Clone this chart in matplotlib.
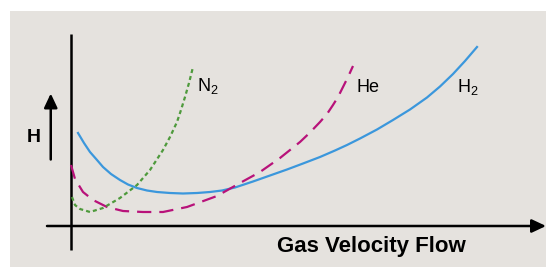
import matplotlib.pyplot as plt
from matplotlib.patches import Rectangle

plt.rcParams['font.family'] = ['Liberation Sans', 'DejaVu Sans']

# Van Deemter curves, plate height H vs gas velocity (arbitrary units)
h2_u = [0.14, 0.26, 0.38, 0.52, 0.64, 0.80, 0.98, 1.14, 1.32, 1.52, 1.72, 1.98, 2.24, 2.52, 2.78,
        3.02, 3.28, 3.46, 3.64, 3.98, 4.32, 4.64, 4.98, 5.28, 5.52, 5.78, 6.12, 6.44, 6.78, 7.12,
        7.38, 7.64, 7.88, 8.12]
h2_h = [1.86, 1.66, 1.48, 1.32, 1.18, 1.04, 0.92, 0.83, 0.76, 0.71, 0.68, 0.66, 0.65, 0.66, 0.68,
        0.71, 0.77, 0.83, 0.89, 1.01, 1.13, 1.25, 1.38, 1.51, 1.62, 1.75, 1.93, 2.12, 2.33, 2.57,
        2.79, 3.04, 3.30, 3.58]

he_u = [0.0, 0.08, 0.24, 0.44, 0.72, 1.04, 1.44, 1.84, 2.32, 2.92, 3.38, 3.78, 4.18, 4.58, 4.78,
        4.98, 5.12, 5.24, 5.34, 5.44, 5.54, 5.64]
he_h = [1.22, 0.94, 0.68, 0.52, 0.38, 0.30, 0.28, 0.28, 0.38, 0.60, 0.86, 1.08, 1.36, 1.68, 1.87,
        2.08, 2.24, 2.42, 2.58, 2.78, 2.98, 3.20]

n2_u = [0.02, 0.08, 0.18, 0.38, 0.64, 0.98, 1.32, 1.58, 1.84, 1.98, 2.12, 2.20, 2.28, 2.36, 2.44]
n2_h = [0.58, 0.42, 0.34, 0.28, 0.36, 0.56, 0.82, 1.12, 1.52, 1.78, 2.08, 2.32, 2.58, 2.86, 3.18]

fig = plt.figure(figsize=(5.46, 2.67), dpi=100)
fig.patch.set_facecolor('white')

ax = fig.add_axes([0, 0, 1, 1])
ax.set_facecolor('none')
ax.set_xlim(-71 / 50, 475 / 50)
ax.set_ylim(-41 / 50, 226 / 50)
ax.axis('off')

# grey panel behind everything
ax.add_patch(Rectangle((10 / 546, 0), 1, 256 / 267, transform=fig.transFigure,
                       facecolor='#e5e2de', edgecolor='none', zorder=-10))

# axes lines
ax.plot([0, 0], [-0.48, 3.84], color='black', lw=1.8, solid_capstyle='butt')
ax.annotate('', xy=(9.5, 0), xytext=(-0.48, 0),
            arrowprops=dict(arrowstyle='-|>,head_length=0.85,head_width=0.4',
                            mutation_scale=10, lw=1.8, color='black',
                            shrinkA=0, shrinkB=0))
ax.annotate('', xy=(-0.405, 2.65), xytext=(-0.405, 1.33),
            arrowprops=dict(arrowstyle='-|>,head_length=0.85,head_width=0.4',
                            mutation_scale=10, lw=1.8, color='black',
                            shrinkA=0, shrinkB=0))

# curves
ax.plot(h2_u, h2_h, color='#3b97dc', lw=1.6, solid_joinstyle='round')
ax.plot(he_u, he_h, color='#b8127a', lw=1.6, dashes=(6.4, 3.6), dash_joinstyle='round')
ax.plot(n2_u, n2_h, color='#4e9a3c', lw=1.6, dashes=(1.8, 1.4))

# labels
ax.text(2.52, 2.7, r'$\mathregular{N_2}$', fontsize=13, ha='left', va='baseline')
ax.text(5.7, 2.68, 'He', fontsize=13, ha='left', va='baseline')
ax.text(7.72, 2.68, r'$\mathregular{H_2}$', fontsize=13, ha='left', va='baseline')
ax.text(-0.74, 1.78, 'H', fontsize=14, fontweight='bold', ha='center', va='center')
ax.text(6.01, -0.52, 'Gas Velocity Flow', fontsize=16, fontweight='bold',
        ha='center', va='baseline')

plt.savefig('out.png', dpi=100)
